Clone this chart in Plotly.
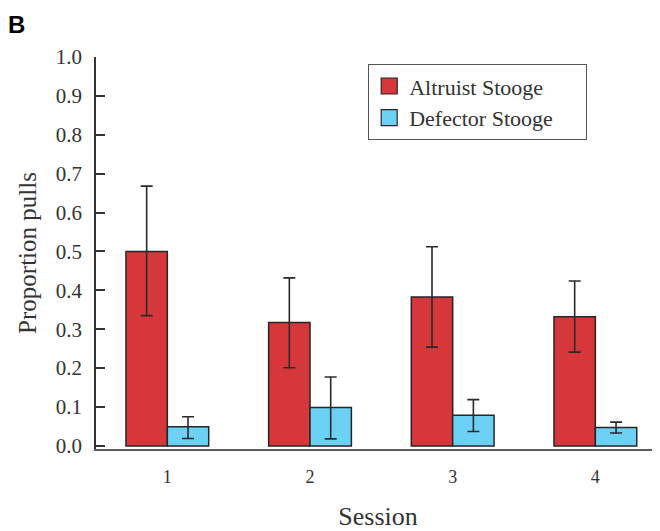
import plotly.graph_objects as go

sessions = [1, 2, 3, 4]
session_labels = ["1", "2", "3", "4"]
altruist = [0.50, 0.317, 0.383, 0.332]
altruist_hi = [0.668, 0.432, 0.512, 0.424]
altruist_lo = [0.335, 0.201, 0.254, 0.241]
defector = [0.049, 0.099, 0.079, 0.047]
defector_hi = [0.075, 0.177, 0.119, 0.061]
defector_lo = [0.019, 0.018, 0.037, 0.033]
y_ticks = [0.0, 0.1, 0.2, 0.3, 0.4, 0.5, 0.6, 0.7, 0.8, 0.9, 1.0]

RED = "#D5373B"
BLUE = "#6DD1F5"
EDGE = "#262626"
SERIF = "Liberation Serif, Times New Roman, serif"

def err(vals, hi, lo):
    return dict(type="data", symmetric=False,
                array=[h - v for h, v in zip(hi, vals)],
                arrayminus=[v - l for v, l in zip(vals, lo)],
                color="#2a2a2a", thickness=1.6, width=6)

fig = go.Figure()
fig.add_trace(go.Bar(x=sessions, y=altruist, name="Altruist Stooge",
                     marker=dict(color=RED, line=dict(color=EDGE, width=1.5)),
                     error_y=err(altruist, altruist_hi, altruist_lo),
                     showlegend=False))
fig.add_trace(go.Bar(x=sessions, y=defector, name="Defector Stooge",
                     marker=dict(color=BLUE, line=dict(color=EDGE, width=1.5)),
                     error_y=err(defector, defector_hi, defector_lo),
                     showlegend=False))
# legend entries with larger square swatches (trailing nbsp widens the box)
for nm, col in [("Altruist Stooge", RED), ("Defector Stooge", BLUE)]:
    fig.add_trace(go.Scatter(x=[None], y=[None], mode="markers",
                             name=nm + "\u00a0" * 5,
                             marker=dict(symbol="square", size=22, color=col,
                                         line=dict(color=EDGE, width=1.2))))

# page body has an 8px default margin, so the figure is offset by (8, 8)
PW, PH = 564, 392
fig.update_layout(
    width=652, height=523,
    margin=dict(l=88, r=0, t=49, b=82),
    paper_bgcolor="white", plot_bgcolor="white",
    barmode="group", bargap=0.42, bargroupgap=0,
    font=dict(family=SERIF, color="#333333"),
    legend=dict(x=(368 - 96) / PW, y=1 - 7 / PH, xanchor="left", yanchor="top",
                bordercolor="#555555", borderwidth=1.2,
                font=dict(family=SERIF, size=22, color="#333333"),
                itemsizing="trace", tracegroupgap=0,
                bgcolor="white"),
    xaxis=dict(range=[0.5, 4.453], tickvals=sessions, ticktext=session_labels,
               showline=True, linecolor="#5a5a5a", linewidth=1.5,
               ticks="", showgrid=False, zeroline=False, automargin=False,
               tickfont=dict(family=SERIF, size=18, color="#333333"),
               ticklabelstandoff=11,
               title=dict(text="Session", font=dict(family=SERIF, size=26, color="#333333"),
                          standoff=22)),
    yaxis=dict(range=[-0.008, 1.0], tickvals=y_ticks,
               ticktext=[f"{v:.1f}" for v in y_ticks],
               showline=True, linecolor="#333333", linewidth=1.5,
               ticks="inside", ticklen=9, tickcolor="#333333", tickwidth=1.5,
               showgrid=False, zeroline=False, automargin=False,
               tickfont=dict(family=SERIF, size=21, color="#333333"),
               ticklabelstandoff=8,
               title=dict(text="Proportion pulls", font=dict(family=SERIF, size=25, color="#333333"),
                          standoff=12)),
)
fig.add_annotation(text="<b>B</b>", xref="paper", yref="paper",
                   x=-90 / PW, y=1 + 33 / PH, xanchor="left", yanchor="middle",
                   showarrow=False,
                   font=dict(family="Liberation Sans, Arial, sans-serif", size=24, color="black"))

fig.write_html("out.html")
